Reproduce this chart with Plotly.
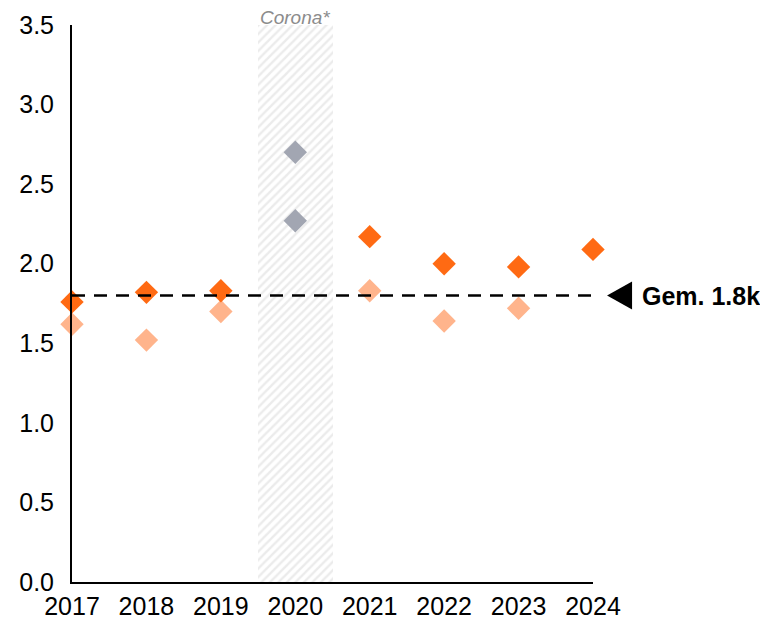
"""Yearly values with a corona period highlight and an average line."""

import plotly.graph_objects as go

years = [2017, 2018, 2019, 2021, 2022, 2023, 2024]
dark_values = [1.76, 1.82, 1.83, 2.17, 2.00, 1.98, 2.09]
light_years = [2017, 2018, 2019, 2021, 2022, 2023]
light_values = [1.62, 1.52, 1.70, 1.83, 1.64, 1.72]
corona_years = [2020, 2020]
corona_values = [2.70, 2.27]
corona_band_top = 3.6
average = 1.8
average_label = "Gem. 1.8k"
tick_years = [2017, 2018, 2019, 2020, 2021, 2022, 2023, 2024]

DARK = "#FF6A13"
LIGHT = "#FFB48C"
GREY = "#A2A6B2"
FONT = "Liberation Sans, Arial, sans-serif"

fig = go.Figure()

# hatched corona band, reaching a bit above the axis top
fig.add_trace(
    go.Bar(
        x=[2020],
        y=[corona_band_top],
        width=[1.0],
        marker={
            "color": "white",
            "line": {"width": 0},
            "pattern": {
                "shape": "/",
                "fgcolor": "#D8D8D8",
                "bgcolor": "#FFFFFF",
                "size": 6,
                "solidity": 0.4,
            },
        },
        cliponaxis=False,
        hoverinfo="skip",
        showlegend=False,
    )
)

marker_style = {"symbol": "diamond", "size": 18, "line": {"width": 0}}
fig.add_trace(
    go.Scatter(x=light_years, y=light_values, mode="markers",
               marker={**marker_style, "color": LIGHT}, cliponaxis=False, showlegend=False)
)
fig.add_trace(
    go.Scatter(x=years, y=dark_values, mode="markers",
               marker={**marker_style, "color": DARK}, cliponaxis=False, showlegend=False)
)
fig.add_trace(
    go.Scatter(x=corona_years, y=corona_values, mode="markers",
               marker={**marker_style, "color": GREY}, cliponaxis=False, showlegend=False)
)

# average line with arrow head and label to the right of the plot
fig.add_shape(
    type="line", xref="x domain", yref="y", x0=0, x1=1.013, y0=average, y1=average,
    line={"color": "black", "width": 2.5, "dash": "13px,9px"},
)
fig.add_shape(
    type="path", xref="paper", yref="y",
    path=f"M 1.027,{average} L 1.075,{average + 0.088} L 1.075,{average - 0.088} Z",
    fillcolor="black", line={"width": 0},
)
fig.add_annotation(
    x=1.09, y=average, xref="paper", yref="y", text=f"<b>{average_label}</b>",
    showarrow=False, xanchor="left", yanchor="middle",
    font={"family": FONT, "size": 25, "color": "black"},
)
fig.add_annotation(
    x=2020, y=1.0126, xref="x", yref="paper", text="<i>Corona*</i>",
    showarrow=False, xanchor="center", yanchor="middle",
    font={"family": FONT, "size": 19, "color": "#8C8C8C"},
)

# the page body adds an 8px offset, so the figure is 8px smaller than the window
fig.update_layout(
    width=760,
    height=612,
    margin={"l": 64, "r": 175, "t": 17, "b": 38, "autoexpand": False},
    paper_bgcolor="white",
    plot_bgcolor="white",
    font={"family": FONT, "size": 25, "color": "black"},
    bargap=0,
)
fig.update_xaxes(
    range=[2017, 2024],
    tickvals=tick_years,
    ticktext=[str(y) for y in tick_years],
    showgrid=False,
    zeroline=False,
    showline=True,
    linecolor="black",
    linewidth=2,
    ticks="",
    ticklabelstandoff=1,
)
fig.update_yaxes(
    range=[0, 3.5],
    tickvals=[0, 0.5, 1.0, 1.5, 2.0, 2.5, 3.0, 3.5],
    tickformat=".1f",
    showgrid=False,
    zeroline=False,
    showline=True,
    linecolor="black",
    linewidth=2,
    ticks="",
    ticklabelstandoff=11,
)

fig.write_html("out.html")
